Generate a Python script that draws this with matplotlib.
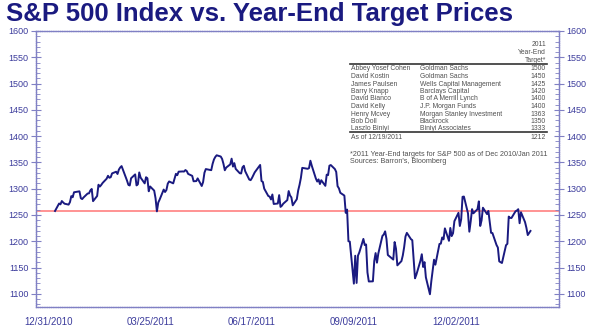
import numpy as np
import pandas as pd
import matplotlib
matplotlib.use('Agg')
from matplotlib import pyplot as plt
from matplotlib.ticker import MultipleLocator

plt.rcParams['font.family'] = ['Liberation Sans', 'DejaVu Sans']

# S&P 500 daily closes, 12/31/2010 - 12/16/2011
trade_days = ("2010-12-31 "
    "2011-01-03 2011-01-04 2011-01-05 2011-01-06 2011-01-07 2011-01-10 2011-01-11 2011-01-12 2011-01-13 2011-01-14 "
    "2011-01-18 2011-01-19 2011-01-20 2011-01-21 2011-01-24 2011-01-25 2011-01-26 2011-01-27 2011-01-28 2011-01-31 "
    "2011-02-01 2011-02-02 2011-02-03 2011-02-04 2011-02-07 2011-02-08 2011-02-09 2011-02-10 2011-02-11 2011-02-14 "
    "2011-02-15 2011-02-16 2011-02-17 2011-02-18 2011-02-22 2011-02-23 2011-02-24 2011-02-25 2011-02-28 "
    "2011-03-01 2011-03-02 2011-03-03 2011-03-04 2011-03-07 2011-03-08 2011-03-09 2011-03-10 2011-03-11 2011-03-14 "
    "2011-03-15 2011-03-16 2011-03-17 2011-03-18 2011-03-21 2011-03-22 2011-03-23 2011-03-24 2011-03-25 2011-03-28 "
    "2011-03-29 2011-03-30 2011-03-31 "
    "2011-04-01 2011-04-04 2011-04-05 2011-04-06 2011-04-07 2011-04-08 2011-04-11 2011-04-12 2011-04-13 2011-04-14 "
    "2011-04-15 2011-04-18 2011-04-19 2011-04-20 2011-04-21 2011-04-25 2011-04-26 2011-04-27 2011-04-28 2011-04-29 "
    "2011-05-02 2011-05-03 2011-05-04 2011-05-05 2011-05-06 2011-05-09 2011-05-10 2011-05-11 2011-05-12 2011-05-13 "
    "2011-05-16 2011-05-17 2011-05-18 2011-05-19 2011-05-20 2011-05-23 2011-05-24 2011-05-25 2011-05-26 2011-05-27 "
    "2011-05-31 "
    "2011-06-01 2011-06-02 2011-06-03 2011-06-06 2011-06-07 2011-06-08 2011-06-09 2011-06-10 2011-06-13 2011-06-14 "
    "2011-06-15 2011-06-16 2011-06-17 2011-06-20 2011-06-21 2011-06-22 2011-06-23 2011-06-24 2011-06-27 2011-06-28 "
    "2011-06-29 2011-06-30 "
    "2011-07-01 2011-07-05 2011-07-06 2011-07-07 2011-07-08 2011-07-11 2011-07-12 2011-07-13 2011-07-14 2011-07-15 "
    "2011-07-18 2011-07-19 2011-07-20 2011-07-21 2011-07-22 2011-07-25 2011-07-26 2011-07-27 2011-07-28 2011-07-29 "
    "2011-08-01 2011-08-02 2011-08-03 2011-08-04 2011-08-05 2011-08-08 2011-08-09 2011-08-10 2011-08-11 2011-08-12 "
    "2011-08-15 2011-08-16 2011-08-17 2011-08-18 2011-08-19 2011-08-22 2011-08-23 2011-08-24 2011-08-25 2011-08-26 "
    "2011-08-29 2011-08-30 2011-08-31 "
    "2011-09-01 2011-09-02 2011-09-06 2011-09-07 2011-09-08 2011-09-09 2011-09-12 2011-09-13 2011-09-14 2011-09-15 "
    "2011-09-16 2011-09-19 2011-09-20 2011-09-21 2011-09-22 2011-09-23 2011-09-26 2011-09-27 2011-09-28 2011-09-29 "
    "2011-09-30 "
    "2011-10-03 2011-10-04 2011-10-05 2011-10-06 2011-10-07 2011-10-10 2011-10-11 2011-10-12 2011-10-13 2011-10-14 "
    "2011-10-17 2011-10-18 2011-10-19 2011-10-20 2011-10-21 2011-10-24 2011-10-25 2011-10-26 2011-10-27 2011-10-28 "
    "2011-10-31 "
    "2011-11-01 2011-11-02 2011-11-03 2011-11-04 2011-11-07 2011-11-08 2011-11-09 2011-11-10 2011-11-11 2011-11-14 "
    "2011-11-15 2011-11-16 2011-11-17 2011-11-18 2011-11-21 2011-11-22 2011-11-23 2011-11-25 2011-11-28 2011-11-29 "
    "2011-11-30 "
    "2011-12-01 2011-12-02 2011-12-05 2011-12-06 2011-12-07 2011-12-08 2011-12-09 2011-12-12 2011-12-13 2011-12-14 "
    "2011-12-15 2011-12-16").split()

closes = [1257.64,
    1271.87, 1270.20, 1276.56, 1273.85, 1271.50, 1269.75, 1274.48, 1285.96, 1283.76, 1293.24,
    1295.02, 1281.92, 1280.26, 1283.35, 1290.84, 1291.18, 1296.63, 1299.54, 1276.34, 1286.12,
    1307.59, 1304.03, 1307.10, 1310.87, 1319.05, 1324.57, 1320.88, 1321.87, 1329.15, 1332.32,
    1328.01, 1336.32, 1340.43, 1343.01, 1315.44, 1307.40, 1306.10, 1319.88, 1327.22,
    1306.33, 1308.44, 1330.97, 1321.15, 1310.13, 1321.82, 1320.02, 1295.11, 1304.28, 1296.39,
    1281.87, 1256.88, 1273.72, 1279.21, 1298.38, 1293.77, 1297.54, 1309.66, 1313.80, 1310.19,
    1319.44, 1328.26, 1325.83,
    1332.41, 1332.87, 1332.63, 1335.54, 1333.51, 1328.17, 1324.46, 1314.16, 1314.41, 1314.52,
    1319.68, 1305.14, 1312.62, 1330.36, 1337.38, 1335.25, 1347.24, 1355.66, 1360.48, 1363.61,
    1361.22, 1356.62, 1347.32, 1335.10, 1340.20, 1346.29, 1357.16, 1342.08, 1348.65, 1337.77,
    1329.47, 1328.98, 1340.68, 1343.60, 1333.27, 1317.37, 1316.28, 1320.47, 1325.69, 1331.10,
    1345.20,
    1314.55, 1312.94, 1300.16, 1286.17, 1284.94, 1279.56, 1289.00, 1270.98, 1271.83, 1287.87,
    1265.42, 1267.64, 1271.50, 1278.36, 1295.52, 1287.14, 1283.50, 1268.45, 1280.10, 1296.67,
    1307.41, 1320.64,
    1339.67, 1337.88, 1339.22, 1353.22, 1343.80, 1319.49, 1313.64, 1317.72, 1308.87, 1316.14,
    1305.44, 1326.73, 1325.84, 1343.80, 1345.02, 1337.43, 1331.94, 1304.89, 1300.67, 1292.28,
    1286.94, 1254.05, 1260.34, 1200.07, 1199.38, 1119.46, 1172.53, 1120.76, 1172.64, 1178.81,
    1204.49, 1192.76, 1193.89, 1140.65, 1123.53, 1123.82, 1162.35, 1177.60, 1159.27, 1176.80,
    1210.08, 1212.92, 1218.89,
    1204.42, 1173.97, 1165.24, 1198.62, 1185.90, 1154.23, 1162.27, 1172.87, 1188.68, 1209.11,
    1216.01, 1204.09, 1202.09, 1166.76, 1129.56, 1136.43, 1162.95, 1175.38, 1151.06, 1160.40,
    1131.42,
    1099.23, 1123.95, 1144.03, 1164.97, 1155.46, 1194.89, 1195.54, 1207.25, 1203.66, 1224.58,
    1200.86, 1225.38, 1209.88, 1215.39, 1238.25, 1254.19, 1229.05, 1242.00, 1284.59, 1285.09,
    1253.30,
    1218.28, 1237.90, 1261.15, 1253.23, 1261.12, 1275.92, 1229.10, 1239.70, 1263.85, 1251.78,
    1257.81, 1236.91, 1216.13, 1215.65, 1192.98, 1188.04, 1161.79, 1158.67, 1192.55, 1195.19,
    1246.96,
    1244.58, 1244.28, 1257.08, 1258.47, 1261.01, 1234.35, 1255.19, 1236.47, 1225.73, 1211.82,
    1215.75, 1219.66]

year_start = 1257.64

# strategist table
strategists = ['Abbey Yosef Cohen', 'David Kostin', 'James Paulsen', 'Barry Knapp', 'David Bianco',
               'David Kelly', 'Henry Mcvey', 'Bob Doll', 'Laszlo Biniyi']
firms = ['Goldman Sachs', 'Goldman Sachs', 'Wells Capital Management', 'Barclays Capital',
         'B of A Merrill Lynch', 'J.P. Morgan Funds', 'Morgan Stanley Investment', 'Blackrock',
         'Biniyi Associates']
targets = [1500, 1450, 1425, 1420, 1400, 1400, 1363, 1350, 1333]
last_close = 1212

date_labels = ['12/31/2010', '03/25/2011', '06/17/2011', '09/09/2011', '12/02/2011']

navy = '#1a1a80'
axis_col = '#8080c4'
tick_col = '#3c3c9c'
txt_col = '#505050'

dt = pd.to_datetime(trade_days)
x = (dt - dt[0]).days.values

fig = plt.figure(figsize=(5.94, 3.28), dpi=100)
ax = fig.add_axes([36/594, 1-307/328, (559-36)/594, (307-31)/328])

ax.axhline(year_start, color='#ff8080', lw=1.2, zorder=1)
ax.plot(x, closes, color=navy, lw=1.4, zorder=2)

ax.set_ylim(1075, 1600)
ax.set_xlim(-14, 371)
ax.yaxis.set_major_locator(MultipleLocator(50))
ax.yaxis.set_minor_locator(MultipleLocator(10))
# labels sit evenly along the bottom of the original chart
ax.set_xticks([-5, 70, 145, 220, 295])
ax.set_xticklabels(date_labels)
ax.tick_params(axis='x', length=0, pad=7, labelsize=7, labelcolor=tick_col)
ax.tick_params(axis='y', which='major', direction='inout', length=7, width=0.8, color=axis_col,
               left=True, right=True, labelleft=True, labelright=True,
               labelsize=6.5, labelcolor=tick_col, pad=2)
ax.tick_params(axis='y', which='minor', direction='in', length=3, width=0.6, color=axis_col,
               left=True, right=True)
for s in ax.spines.values():
    s.set_color(axis_col)
    s.set_linewidth(1.0)
    s.set_linestyle((0, (1, 0.6)))

fig.text(260/594, 1-14/328, 'S&P 500 Index vs. Year-End Target Prices', ha='center', va='center',
         fontsize=18.5, fontweight='bold', color=navy)

# table
fs = 4.9
fy = lambda y: 1 - y/328
fx = lambda xx: xx/594
for i, line in enumerate(['2011', 'Year-End', 'Target*']):
    fig.text(fx(546), fy(45 + i*7.5), line, ha='right', va='center', fontsize=fs, color=txt_col)
fig.add_artist(plt.Line2D([fx(350), fx(547)], [fy(64), fy(64)], color='#333333', lw=1.2))
for i, (n, f, t) in enumerate(zip(strategists, firms, targets)):
    yy = fy(69 + i*7.5)
    fig.text(fx(351), yy, n, ha='left', va='center', fontsize=fs, color=txt_col)
    fig.text(fx(420), yy, f, ha='left', va='center', fontsize=fs, color=txt_col)
    fig.text(fx(546), yy, str(t), ha='right', va='center', fontsize=fs, color=txt_col)
fig.add_artist(plt.Line2D([fx(350), fx(547)], [fy(132), fy(132)], color='#333333', lw=1.2))
fig.text(fx(351), fy(137.5), 'As of 12/19/2011', ha='left', va='center', fontsize=fs, color=txt_col)
fig.text(fx(546), fy(137.5), str(last_close), ha='right', va='center', fontsize=fs, color=txt_col)
fig.text(fx(350), fy(155), '*2011 Year-End targets for S&P 500 as of Dec 2010/Jan 2011',
         ha='left', va='center', fontsize=5.25, color=txt_col)
fig.text(fx(350), fy(161.5), "Sources: Barron's, Bloomberg", ha='left', va='center',
         fontsize=5.25, color=txt_col)

fig.savefig('out.png', dpi=100)
